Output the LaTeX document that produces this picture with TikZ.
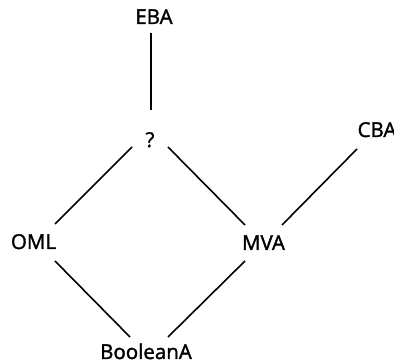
\documentclass[tikz,border=0pt]{standalone}
\usepackage{fontspec}
\setmainfont{Open Sans}[FakeBold=1.6]
\usetikzlibrary{calc}
\begin{document}
\begin{tikzpicture}[x=1pt,y=-1pt,
  lbl/.style={inner sep=0pt,anchor=base,font=\fontsize{20.5}{24}\selectfont},
  edge/.style={line width=1.6pt}]
\useasboundingbox (0,0) rectangle (394,363);
\node[lbl] (eba) at (154,24) {EBA};
\node[lbl] (q) at (150,147) {?};
\node[lbl] (cba) at (377,137) {CBA};
\node[lbl] (oml) at (33.5,249) {OML};
\node[lbl] (mva) at (263.5,250) {MVA};
\node[lbl] (bool) at (146,359) {BooleanA};
\draw[edge] ($(eba.base)+(-3,9)$) -- ($(q.base)+(1,-37)$);
\draw[edge] ($(q.base)+(-18,0)$) -- ($(oml.base)+(21.5,-25)$);
\draw[edge] ($(q.base)+(18,0)$) -- ($(mva.base)+(-18.5,-25)$);
\draw[edge] ($(mva.base)+(18.5,-25)$) -- ($(cba.base)+(-20,12)$);
\draw[edge] ($(oml.base)+(21.5,12)$) -- ($(bool.base)+(-16,-22)$);
\draw[edge] ($(mva.base)+(-18.5,11)$) -- ($(bool.base)+(22,-22)$);
\end{tikzpicture}
\end{document}
